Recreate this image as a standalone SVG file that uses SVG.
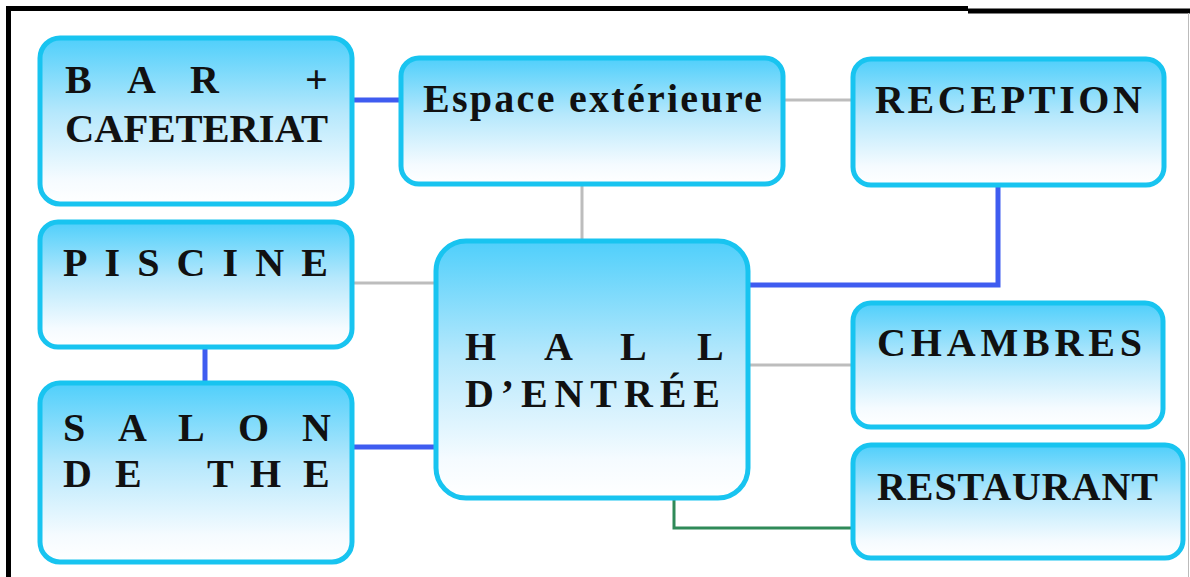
<svg xmlns="http://www.w3.org/2000/svg" width="1190" height="577" viewBox="0 0 1190 577">
<defs>
<linearGradient id="g" x1="0" y1="0" x2="0" y2="1">
<stop offset="0" stop-color="#4fcffb"/>
<stop offset="0.45" stop-color="#b6e8fc"/>
<stop offset="0.85" stop-color="#f5fbff"/>
<stop offset="1" stop-color="#ffffff"/>
</linearGradient>
<style>
.box{fill:url(#g);stroke:#18c4f0;stroke-width:5}
.t{font-family:'Liberation Serif','DejaVu Serif',serif;font-weight:700;font-size:40px;fill:#111}
.gray{stroke:#bdbdbd;stroke-width:3;fill:none}
.blue{stroke:#3f5cf0;stroke-width:5;fill:none}
.green{stroke:#2f8a58;stroke-width:3;fill:none}
</style>
</defs>
<rect width="1190" height="577" fill="#ffffff"/>
<g id="frame">
<line x1="8.5" y1="6" x2="8.5" y2="577" stroke="#000" stroke-width="5"/>
<line x1="6" y1="8.5" x2="968" y2="8.5" stroke="#000" stroke-width="5"/>
<line x1="968" y1="11" x2="1190" y2="11" stroke="#000" stroke-width="5"/>
<line x1="1188.5" y1="13" x2="1188.5" y2="577" stroke="#bbb" stroke-width="1"/>
</g>
<g id="connectors">
<line class="blue" x1="352" y1="100" x2="401" y2="100"/>
<line class="gray" x1="783" y1="100" x2="853" y2="100"/>
<line class="gray" x1="582" y1="184" x2="582" y2="241"/>
<polyline class="blue" points="998,185 998,285 748,285"/>
<line class="gray" x1="352" y1="283" x2="436" y2="283"/>
<line class="blue" x1="205" y1="347" x2="205" y2="383"/>
<line class="blue" x1="352" y1="447" x2="436" y2="447"/>
<line class="gray" x1="748" y1="365" x2="853" y2="365"/>
<polyline class="green" points="674,498 674,528 853,528"/>
</g>
<g id="bar">
<rect class="box" x="40" y="38" width="312" height="166" rx="20"/>
<text class="t"><tspan x="65" y="93">B</tspan><tspan x="127" y="93">A</tspan><tspan x="190" y="93">R</tspan><tspan x="305" y="93">+</tspan></text>
<text class="t" x="65" y="142" textLength="263" lengthAdjust="spacingAndGlyphs">CAFETERIAT</text>
</g>
<g id="espace">
<rect class="box" x="401" y="58" width="382" height="126" rx="18"/>
<text class="t" x="423" y="112" textLength="339" lengthAdjust="spacing">Espace extérieure</text>
</g>
<g id="reception">
<rect class="box" x="853" y="59" width="311" height="126" rx="18"/>
<text class="t" x="875" y="113" textLength="267" lengthAdjust="spacing">RECEPTION</text>
</g>
<g id="piscine">
<rect class="box" x="40" y="222" width="312" height="125" rx="18"/>
<text class="t" x="63" y="276" textLength="265" lengthAdjust="spacing">PISCINE</text>
</g>
<g id="salon">
<rect class="box" x="40" y="383" width="312" height="179" rx="20"/>
<text class="t"><tspan x="63" y="441">S</tspan><tspan x="118" y="441">A</tspan><tspan x="178" y="441">L</tspan><tspan x="238" y="441">O</tspan><tspan x="302" y="441">N</tspan></text>
<text class="t"><tspan x="63" y="487">D</tspan><tspan x="115" y="487">E</tspan><tspan x="207" y="487">T</tspan><tspan x="250" y="487">H</tspan><tspan x="303" y="487">E</tspan></text>
</g>
<g id="hall">
<rect class="box" x="436" y="241" width="312" height="257" rx="30"/>
<text class="t"><tspan x="465" y="360">H</tspan><tspan x="544" y="360">A</tspan><tspan x="620" y="360">L</tspan><tspan x="697" y="360">L</tspan></text>
<text class="t" x="465" y="407" textLength="255" lengthAdjust="spacing">D’ENTRÉE</text>
</g>
<g id="chambres">
<rect class="box" x="853" y="303" width="310" height="124" rx="18"/>
<text class="t" x="877" y="356" textLength="265" lengthAdjust="spacing">CHAMBRES</text>
</g>
<g id="restaurant">
<rect class="box" x="853" y="445" width="330" height="113" rx="18"/>
<text class="t" x="877" y="500" textLength="281" lengthAdjust="spacing">RESTAURANT</text>
</g>
</svg>
